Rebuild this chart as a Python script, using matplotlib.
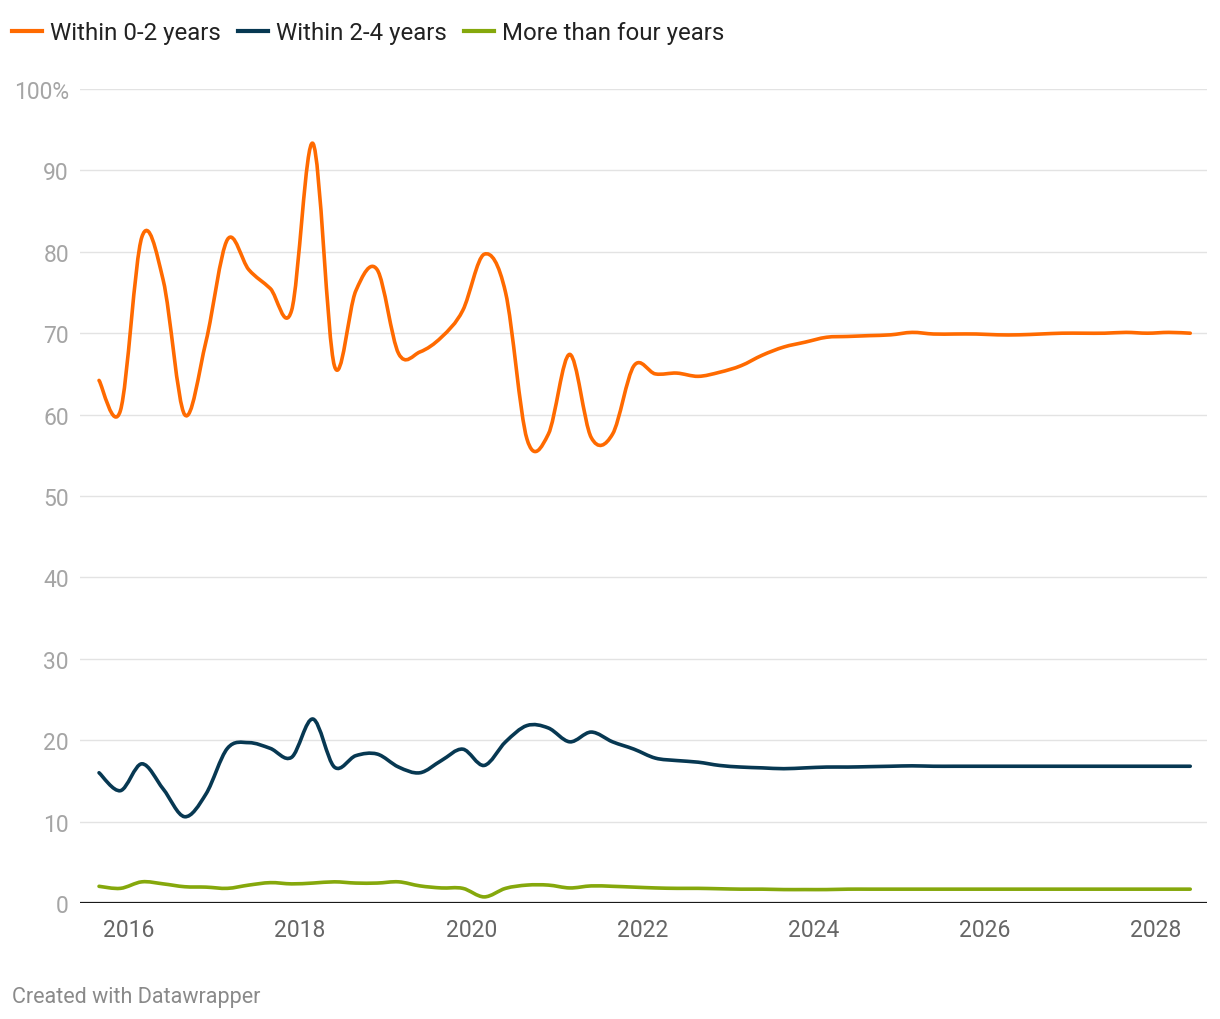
import numpy as np
import matplotlib.pyplot as plt
from matplotlib.path import Path
from matplotlib.patches import PathPatch
from matplotlib.lines import Line2D

plt.rcParams['font.family'] = ['Roboto', 'DejaVu Sans']

# quarterly observations, first one around Sept 2015
start_year = 2015.65
n_points = 52

within_0_2 = [64.2, 60.5, 81.8, 76.5, 60.0, 69.0, 81.5, 77.8, 75.5, 72.8,
              93.3, 66.0, 75.2, 77.8, 67.5, 67.7, 69.5, 72.8, 79.7, 75.0,
              57.0, 57.6, 67.4, 57.2, 57.6, 66.0, 65.0, 65.1, 64.7, 65.2,
              66.0, 67.3, 68.3, 68.9, 69.5, 69.6, 69.7, 69.8, 70.1, 69.9,
              69.9, 69.9, 69.8, 69.8, 69.9, 70.0, 70.0, 70.0, 70.1, 70.0,
              70.1, 70.0]
within_2_4 = [16.0, 13.8, 17.1, 14.0, 10.6, 13.4, 19.0, 19.7, 19.0, 17.9,
              22.6, 16.7, 18.1, 18.3, 16.7, 16.0, 17.5, 18.9, 16.9, 19.8,
              21.8, 21.5, 19.8, 21.0, 19.8, 18.9, 17.8, 17.5, 17.3, 16.9,
              16.7, 16.6, 16.5, 16.6, 16.7, 16.7, 16.75, 16.8, 16.85, 16.8,
              16.8, 16.8, 16.8, 16.8, 16.8, 16.8, 16.8, 16.8, 16.8, 16.8,
              16.8, 16.8]
more_than_4 = [2.05, 1.8, 2.6, 2.35, 2.0, 1.95, 1.8, 2.2, 2.5, 2.35,
               2.45, 2.6, 2.45, 2.45, 2.6, 2.1, 1.85, 1.8, 0.75, 1.8,
               2.2, 2.2, 1.85, 2.1, 2.05, 1.95, 1.85, 1.8, 1.8, 1.75,
               1.7, 1.7, 1.65, 1.65, 1.65, 1.7, 1.7, 1.7, 1.7, 1.7,
               1.7, 1.7, 1.7, 1.7, 1.7, 1.7, 1.7, 1.7, 1.7, 1.7,
               1.7, 1.7]

series_names = ['Within 0-2 years', 'Within 2-4 years', 'More than four years']
series_colors = ['#ff6a00', '#073852', '#85a80c']
x_ticks = [2016, 2018, 2020, 2022, 2024, 2026, 2028]
y_ticks = [0, 10, 20, 30, 40, 50, 60, 70, 80, 90, 100]

years = start_year + 0.25 * np.arange(n_points)


def curved_path(x, y):
    # catmull-rom through the points, drawn as cubic bezier segments
    x = np.asarray(x, float)
    y = np.asarray(y, float)
    pts = np.column_stack([x, y])
    ext = np.vstack([pts[0], pts, pts[-1]])
    verts = [pts[0]]
    codes = [Path.MOVETO]
    for i in range(len(pts) - 1):
        p0, p1, p2, p3 = ext[i], ext[i + 1], ext[i + 2], ext[i + 3]
        c1 = p1 + (p2 - p0) / 6.0
        c2 = p2 - (p3 - p1) / 6.0
        verts += [c1, c2, p2]
        codes += [Path.CURVE4] * 3
    return Path(verts, codes)


fig = plt.figure(figsize=(12.2, 10.2), dpi=100)
ax = fig.add_axes([80 / 1220, 116 / 1020, 1127 / 1220, 814 / 1020])

x0 = 2016 - 49 / 85.6
x1 = 2028 + 51 / 85.6
ax.set_xlim(x0, x1)
ax.set_ylim(0, 100)

for yt in y_ticks[1:]:
    ax.axhline(yt, color='#e3e3e3', lw=1.0, zorder=1)
ax.axhline(0, color='#1a1a1a', lw=1.6, zorder=4)

for vals, col in zip([within_0_2, within_2_4, more_than_4], series_colors):
    patch = PathPatch(curved_path(years, vals), facecolor='none', edgecolor=col,
                      lw=2.6, capstyle='round', joinstyle='round', zorder=3)
    ax.add_patch(patch)

for s in ax.spines.values():
    s.set_visible(False)

ax.set_xticks(x_ticks)
ax.set_xticklabels([str(t) for t in x_ticks], fontsize=16.5, color='#666666')
ax.set_yticks(y_ticks)
ax.set_yticklabels([str(t) if t < 100 else '100%' for t in y_ticks],
                   fontsize=16.5, color='#a5a5a5')
ax.tick_params(axis='both', length=0)
ax.tick_params(axis='x', pad=11)
ax.tick_params(axis='y', pad=8)

handles = [Line2D([0], [0], color=c, lw=3) for c in series_colors]
fig.legend(handles, series_names, loc='upper left',
           bbox_to_anchor=(12 / 1220, 1 - 22 / 1020), borderaxespad=0,
           borderpad=0, ncol=3, frameon=False, fontsize=17.3, handlelength=1.25,
           handletextpad=0.33, columnspacing=0.71, labelcolor='#222222')

fig.text(12 / 1220, 1 - 998 / 1020, 'Created with Datawrapper', fontsize=15.5,
         color='#8a8a8a', va='center', ha='left')

fig.savefig('out.png', dpi=100, facecolor='white')
